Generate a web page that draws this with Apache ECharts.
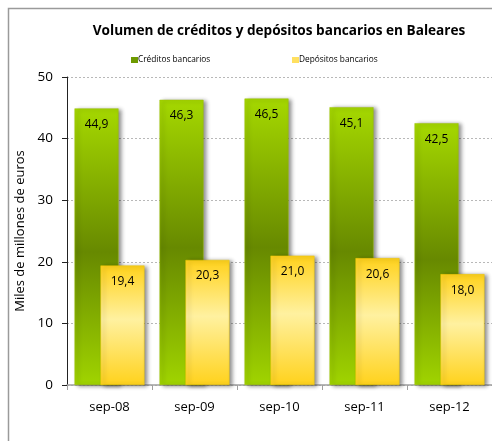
<!DOCTYPE html>
<html><head><meta charset="utf-8">
<script src="https://cdn.jsdelivr.net/npm/echarts@6/dist/echarts.min.js"></script>
<style>html,body{margin:0;padding:0;background:#fff;}#c{width:492px;height:441px;}</style>
</head><body><div id="c"></div>
<script>
var categories = ['sep-08','sep-09','sep-10','sep-11','sep-12'];
var creditos = [44.9, 46.3, 46.5, 45.1, 42.5];
var depositos = [19.4, 20.3, 21.0, 20.6, 18.0];
var yTicks = [0, 10, 20, 30, 40, 50];
var FONT = '"Open Sans", "Liberation Sans", sans-serif';
var greenGrad = new echarts.graphic.LinearGradient(0,0,0,1,[
  {offset:0,color:'#A5D800'},{offset:0.52,color:'#678900'},{offset:1,color:'#A0D400'}]);
var yellowGrad = new echarts.graphic.LinearGradient(0,0,0,1,[
  {offset:0,color:'#FFD21C'},{offset:0.45,color:'#FFF1A0'},{offset:1,color:'#FFD21C'}]);
function fmt(p){ return p.value.toFixed(1).replace('.', ','); }
var chart = echarts.init(document.getElementById('c'), null, {renderer:'canvas'});
chart.setOption({
  animation:false,
  backgroundColor:'#fff',
  graphic:[{type:'rect', shape:{x:8.5,y:8.5,width:520,height:470}, style:{fill:'none', stroke:'#9a9a9a', lineWidth:1.5}, z:-1}],
  title:{text:'Volumen de créditos y depósitos bancarios en Baleares', left:274, textAlign:'center', top:19,
    textStyle:{fontFamily:FONT, fontSize:13.6, fontWeight:'bold', color:'#000'}},
  legend:[
    {data:[{name:'Créditos bancarios', itemStyle:{color:'#6E9A00', borderWidth:0, shadowBlur:0}}], left:126, top:51, itemWidth:7, itemHeight:6, icon:'rect',
      textStyle:{fontFamily:FONT, fontSize:8.3, color:'#000', padding:[0,0,0,-5]}},
    {data:[{name:'Depósitos bancarios', itemStyle:{color:'#FFE060', borderWidth:0, shadowBlur:0}}], left:287, top:51, itemWidth:7, itemHeight:6, icon:'rect',
      textStyle:{fontFamily:FONT, fontSize:8.3, color:'#000', padding:[0,0,0,-5]}}
  ],
  grid:{left:67, top:77, width:428, height:308, containLabel:false},
  xAxis:{type:'category', data:categories,
    axisLine:{lineStyle:{color:'#a0a0a0', width:1.5}},
    axisTick:{show:true, length:5, lineStyle:{color:'#a0a0a0'}},
    axisLabel:{fontFamily:FONT, fontSize:13, color:'#000', margin:16}},
  yAxis:{type:'value', min:0, max:50, interval:10,
    name:'Miles de millones de euros', nameLocation:'middle', nameGap:34,
    nameTextStyle:{fontFamily:FONT, fontSize:13, color:'#000'},
    axisLine:{show:true, lineStyle:{color:'#222', width:1}},
    axisTick:{show:true, length:5, lineStyle:{color:'#222'}},
    axisLabel:{fontFamily:FONT, fontSize:13.5, color:'#000', margin:14,
      formatter:function(v){ return yTicks.indexOf(v)>=0 ? String(v) : ''; }},
    splitLine:{show:true, lineStyle:{color:'#b8b8b8', type:[2,2], width:1}}},
  series:[
    {name:'Créditos bancarios', type:'bar', data:creditos, barWidth:44, barGap:'-41%',
      itemStyle:{color:greenGrad, borderColor:'#9CC200', borderWidth:0.5, shadowColor:'rgba(0,0,0,0.45)', shadowBlur:4, shadowOffsetX:3, shadowOffsetY:1},
      label:{show:true, position:'insideTop', distance:10, formatter:fmt, fontFamily:FONT, fontSize:12, color:'#000'}},
    {name:'Depósitos bancarios', type:'bar', data:depositos, barWidth:44,
      itemStyle:{color:yellowGrad, borderColor:'#F0C800', borderWidth:0.5, shadowColor:'rgba(0,0,0,0.45)', shadowBlur:4, shadowOffsetX:3, shadowOffsetY:1},
      label:{show:true, position:'insideTop', distance:10, formatter:fmt, fontFamily:FONT, fontSize:12, color:'#000'}}
  ]
});
</script></body></html>
